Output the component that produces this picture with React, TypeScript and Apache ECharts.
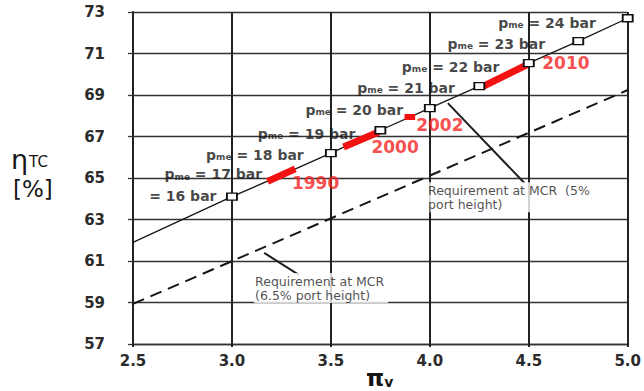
import React, { useEffect, useRef } from "react";
import * as echarts from "echarts";

// ---- data ----
const Y_BASE = 57; // lowest y tick (axis runs 57..73, step 2)
const X_MIN = 2.5;
const X_MAX = 5.0;
const Y_MAX = 73;

// turbocharger efficiency line (solid) through the p_me points
const solidStart: [number, number] = [2.5, 61.9];
const pmeBar = [16, 17, 18, 19, 20, 21, 22, 23, 24];
const pmeX = [3.0, 3.25, 3.5, 3.75, 4.0, 4.25, 4.5, 4.75, 5.0];
const pmeY = [64.1, 65.14, 66.2, 67.3, 68.37, 69.43, 70.54, 71.6, 72.7];
const pmeMarkerShown = [true, false, true, true, true, true, true, true, true];

// requirement at MCR (6.5% port height) – dashed
const dashedX = [2.5, 5.0];
const dashedY = [58.93, 69.24];

// development years (red segments on the solid line)
const years = ["1990", "2000", "2002", "2010"];
const yearFromX = [3.18, 3.564, 3.872, 4.272];
const yearFromY = [64.84, 66.49, 67.94, 69.43];
const yearToX = [3.32, 3.742, 3.926, 4.49];
const yearToY = [65.44, 67.22, 67.94, 70.45];

// ---- annotation anchors (layout, in data units) ----
const pmeLabelRightX = [2.922, 3.153, 3.363, 3.624, 3.865, 4.127, 4.352, 4.583, 4.839];
const pmeLabelY = [64.18, 65.24, 66.16, 67.17, 68.33, 69.39, 70.4, 71.51, 72.52];
const yearLabelX = [3.303, 3.705, 3.931, 4.568];
const yearLabelY = [64.76, 66.49, 67.55, 70.54];
const notes = ["Requirement at MCR  (5%\nport height)", "Requirement at MCR\n(6.5% port height)"];
const noteX = [3.986, 3.112];
const noteY = [64.8, 60.42];
const arrowFrom: [number, number][] = [
  [4.478, 64.76],
  [3.338, 60.33],
];
const arrowTo: [number, number][] = [
  [4.091, 68.61],
  [3.163, 61.39],
];

const FONT = "DejaVu Sans";
const INK = "#161616";
const yv = (v: number) => v - Y_BASE;

export default function App() {
  const ref = useRef<HTMLDivElement>(null);
  useEffect(() => {
    if (!ref.current) return;
    const chart = echarts.init(ref.current, undefined, { renderer: "svg" });

    const solidData = [[solidStart[0], yv(solidStart[1])], ...pmeX.map((x, i) => [x, yv(pmeY[i])])];

    const yearSeries = years.map((yr, i) => ({
      type: "line",
      name: "seg" + yr,
      data: [
        [yearFromX[i], yv(yearFromY[i])],
        [yearToX[i], yv(yearToY[i])],
      ],
      symbol: "none",
      silent: true,
      z: 3,
      lineStyle: { color: "#f21212", width: yr === "2002" ? 6 : 7, cap: "butt" },
    }));

    const option: any = {
      animation: false,
      backgroundColor: "#ffffff",
      grid: { left: 133, right: 13, top: 12, bottom: 47 },
      xAxis: {
        type: "value",
        min: X_MIN,
        max: X_MAX,
        interval: 0.5,
        axisLine: { show: true, onZero: false, lineStyle: { color: "#333", width: 1.3 } },
        axisTick: { show: true, inside: false, length: 3, lineStyle: { color: "#222", width: 2 } },
        axisLabel: {
          margin: 9,
          fontFamily: FONT,
          fontWeight: "bold",
          fontSize: 15,
          color: "#2b2b2b",
          formatter: (v: number) => v.toFixed(1),
        },
        splitLine: { show: true, lineStyle: { color: "#222", width: 2 } },
      },
      yAxis: {
        type: "value",
        min: 0,
        max: Y_MAX - Y_BASE,
        interval: 2,
        axisLine: { show: true, onZero: false, lineStyle: { color: "#222", width: 2 } },
        axisTick: { show: true, inside: false, length: 5, lineStyle: { color: "#333", width: 1.3 } },
        axisLabel: {
          margin: 28,
          fontFamily: FONT,
          fontWeight: "bold",
          fontSize: 15,
          color: "#2b2b2b",
          formatter: (v: number) => String(v + Y_BASE),
        },
        splitLine: { show: true, lineStyle: { color: "#333", width: 1.3 } },
      },
      graphic: [
        {
          type: "text",
          left: 11,
          top: 146,
          style: {
            text: "{e|η}{s|TC}",
            rich: {
              e: { fontFamily: FONT, fontSize: 27, fill: INK, verticalAlign: "bottom" },
              s: { fontFamily: FONT, fontSize: 15, fill: INK, verticalAlign: "bottom", padding: [0, 0, 4, 1] },
            },
          },
        },
        {
          type: "text",
          left: 13,
          top: 177,
          style: { text: "[%]", fontFamily: FONT, fontSize: 23, fill: INK },
        },
        {
          type: "text",
          left: 366,
          top: 366,
          style: {
            text: "{p|π}{s|v}",
            rich: {
              p: { fontFamily: FONT, fontSize: 23, fontWeight: "bold", fill: INK, lineHeight: 21, verticalAlign: "bottom" },
              s: { fontFamily: FONT, fontSize: 14, fontWeight: "bold", fill: INK, lineHeight: 16, verticalAlign: "bottom" },
            },
          },
        },
      ],
      series: [
        {
          type: "line",
          name: "req65",
          data: dashedX.map((x, i) => [x, yv(dashedY[i])]),
          symbol: "none",
          silent: true,
          z: 2,
          lineStyle: { color: INK, width: 2, type: [12, 7] },
        },
        {
          type: "line",
          name: "eta",
          data: solidData,
          symbol: "none",
          silent: true,
          z: 2,
          lineStyle: { color: INK, width: 1.3 },
        },
        ...yearSeries,
        {
          type: "scatter",
          name: "markers",
          data: pmeX.map((x, i) => ({
            value: [x, yv(pmeY[i])],
            itemStyle: { opacity: pmeMarkerShown[i] ? 1 : 0 },
          })),
          symbol: "rect",
          symbolSize: [10, 7],
          silent: true,
          z: 4,
          itemStyle: { color: "#ffffff", borderColor: "#111", borderWidth: 1.6 },
        },
        {
          type: "scatter",
          name: "pmeLabels",
          data: pmeBar.map((b, i) => [pmeLabelRightX[i], yv(pmeLabelY[i]), b]),
          symbolSize: 0,
          silent: true,
          z: 5,
          label: {
            show: true,
            position: "left",
            distance: 0,
            formatter: (p: any) =>
              p.dataIndex === 0 ? `{t|= ${p.value[2]} bar}` : `{p|p}{s|me}{t| = ${p.value[2]} bar}`,
            rich: {
              p: { fontFamily: FONT, fontSize: 14, fontWeight: "bold", color: INK, lineHeight: 16, verticalAlign: "bottom" },
              s: { fontFamily: FONT, fontSize: 9, fontWeight: "bold", color: INK, lineHeight: 16, verticalAlign: "bottom" },
              t: { fontFamily: FONT, fontSize: 14, fontWeight: "bold", color: INK, lineHeight: 16, verticalAlign: "bottom" },
            },
          },
        },
        {
          type: "scatter",
          name: "yearLabels",
          data: years.map((yr, i) => [yearLabelX[i], yv(yearLabelY[i]), yr]),
          symbolSize: 0,
          silent: true,
          z: 5,
          label: {
            show: true,
            position: "right",
            distance: 0,
            formatter: (p: any) => p.value[2],
            fontFamily: FONT,
            fontWeight: "bold",
            fontSize: 17,
            color: "#f42020",
          },
        },
        {
          type: "scatter",
          name: "notes",
          data: notes.map((n, i) => [noteX[i], yv(noteY[i]), n]),
          symbolSize: 0,
          silent: true,
          z: 5,
          label: {
            show: true,
            position: [0, 0],
            align: "left",
            verticalAlign: "top",
            formatter: (p: any) => p.value[2],
            fontFamily: FONT,
            fontSize: 12.5,
            lineHeight: 14,
            color: "#1e1e1e",
            backgroundColor: "#ffffff",
            padding: [1, 4, 1, 1],
          },
        },
        {
          type: "line",
          name: "arrows",
          data: [],
          silent: true,
          markLine: {
            silent: true,
            symbol: ["none", "arrow"],
            symbolSize: [1, 12],
            label: { show: false },
            lineStyle: { color: "#1e1e1e", width: 2, type: "solid" },
            data: arrowFrom.map((f, i) => [
              { coord: [f[0], yv(f[1])] },
              { coord: [arrowTo[i][0], yv(arrowTo[i][1])] },
            ]),
          },
        },
      ],
    };
    chart.setOption(option);
    return () => chart.dispose();
  }, []);
  return (
    <div
      ref={ref}
      style={{ position: "absolute", left: 0, top: 0, width: 644, height: 391, background: "#fff" }}
    />
  );
}
